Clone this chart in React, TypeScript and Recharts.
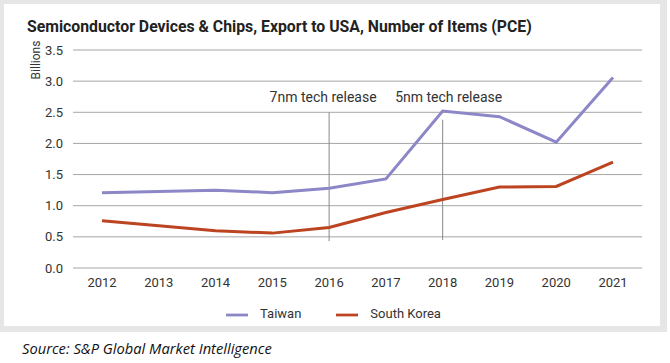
import React from 'react';
import { LineChart, Line, XAxis, YAxis, CartesianGrid, Legend, ReferenceLine, ReferenceDot } from 'recharts';

const years = ['2012', '2013', '2014', '2015', '2016', '2017', '2018', '2019', '2020', '2021'];
const taiwan = [1.21, 1.23, 1.25, 1.21, 1.28, 1.43, 2.52, 2.43, 2.02, 3.06];
const southKorea = [0.76, 0.68, 0.6, 0.56, 0.65, 0.89, 1.1, 1.3, 1.31, 1.7];
const yTicks = [0, 0.5, 1, 1.5, 2, 2.5, 3, 3.5];

const data = years.map((y, i) => ({ year: y, Taiwan: taiwan[i], 'South Korea': southKorea[i] }));

const FONT = 'Roboto, "DejaVu Sans", sans-serif';
const TW = '#8c87c6';
const SK = '#bc4420';

export default function App() {
  return (
    <div style={{ position: 'absolute', left: 0, top: 0, width: 670, height: 363, background: '#fff', fontFamily: FONT }}>
      <div style={{ position: 'absolute', left: 0, top: 0, width: 667, height: 332, background: '#e6e6e6' }} />
      <div style={{ position: 'absolute', left: 4, top: 4, width: 656, height: 322, background: '#fff' }}>
        <LineChart width={656} height={322} data={data} margin={{ top: 46, right: 18, left: 22, bottom: 0 }}>
          <CartesianGrid vertical={false} stroke="#a6a6a6" strokeWidth={1} />
          <XAxis dataKey="year" axisLine={false} tickLine={false} padding={{ left: 29, right: 29 }}
            tick={{ fontSize: 13, fill: '#333', fontFamily: FONT }} tickMargin={4} height={36} />
          <YAxis domain={[0, 3.5]} ticks={yTicks} axisLine={false} tickLine={false} width={47} tickMargin={4}
            tickFormatter={(v: number) => v.toFixed(1)} tick={{ fontSize: 13, fill: '#333', fontFamily: FONT }} />
          <ReferenceLine segment={[{ x: '2016', y: 2.5 }, { x: '2016', y: 0.43 }]} stroke="#888" strokeWidth={1} />
          <ReferenceLine segment={[{ x: '2018', y: 2.38 }, { x: '2018', y: 0.45 }]} stroke="#888" strokeWidth={1} />
          <ReferenceDot x="2016" y={2.74} r={0} fill="none" stroke="none"
            label={{ value: '7nm tech release', position: 'center', dx: -6, fontSize: 14, fill: '#333', fontFamily: FONT }} />
          <ReferenceDot x="2018" y={2.74} r={0} fill="none" stroke="none"
            label={{ value: '5nm tech release', position: 'center', dx: 6, fontSize: 14, fill: '#333', fontFamily: FONT }} />
          <Line type="linear" dataKey="Taiwan" stroke={TW} strokeWidth={3} dot={false} isAnimationActive={false} />
          <Line type="linear" dataKey="South Korea" stroke={SK} strokeWidth={3} dot={false} isAnimationActive={false} />
          <Legend verticalAlign="bottom" iconType="plainline" iconSize={22} itemSorter={null}
            wrapperStyle={{ fontSize: 13, fontFamily: FONT, color: '#333', paddingLeft: 34, boxSizing: 'border-box' }}
            formatter={(v: string) => <span style={{ color: '#333', marginLeft: 8, marginRight: 25 }}>{v}</span>} />
        </LineChart>
      </div>
      <div style={{ position: 'absolute', left: 27, top: 17, fontSize: 15.8, fontWeight: 'bold', color: '#222', whiteSpace: 'nowrap' }}>
        Semiconductor Devices &amp; Chips, Export to USA, Number of Items (PCE)
      </div>
      <div style={{ position: 'absolute', left: 36, top: 60, transform: 'translate(-50%, -50%) rotate(-90deg)', fontSize: 12, color: '#333', whiteSpace: 'nowrap' }}>
        Billions
      </div>
      <div style={{ position: 'absolute', left: 22, top: 338, fontSize: 14.7, fontStyle: 'italic', color: '#111', fontFamily: '"Open Sans", sans-serif', whiteSpace: 'nowrap' }}>
        Source: S&amp;P Global Market Intelligence
      </div>
    </div>
  );
}
